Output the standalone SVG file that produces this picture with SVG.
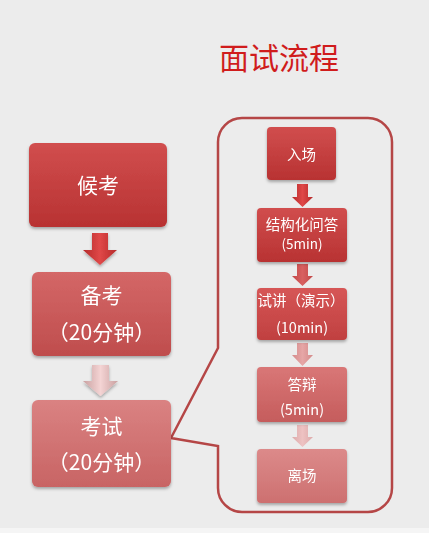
<svg xmlns="http://www.w3.org/2000/svg" width="429" height="533" viewBox="0 0 429 533">
<defs>
<style>
.t{font-family:"Noto Sans CJK SC","Noto Sans",sans-serif;fill:#ffffff;text-anchor:middle}
.big{font-size:21px}
.sm{font-size:14.5px}
.xs{font-size:13.5px}
.title{font-family:"Noto Sans CJK SC","Noto Sans",sans-serif;font-size:30px;fill:#d01c1c;text-anchor:middle}
.box{filter:url(#sh)}
</style>
<filter id="sh" x="-20%" y="-20%" width="140%" height="150%">
<feDropShadow dx="0" dy="2" stdDeviation="1.5" flood-color="#000" flood-opacity="0.3"/>
</filter>
<linearGradient id="g1" x1="0" y1="0" x2="0" y2="1"><stop offset="0" stop-color="#d14e4e"/><stop offset="1" stop-color="#b83232"/></linearGradient>
<linearGradient id="g2" x1="0" y1="0" x2="0" y2="1"><stop offset="0" stop-color="#d46767"/><stop offset="1" stop-color="#bf4d4d"/></linearGradient>
<linearGradient id="g3" x1="0" y1="0" x2="0" y2="1"><stop offset="0" stop-color="#da8282"/><stop offset="1" stop-color="#c86464"/></linearGradient>
<linearGradient id="g4" x1="0" y1="0" x2="0" y2="1"><stop offset="0" stop-color="#d65656"/><stop offset="1" stop-color="#c04040"/></linearGradient>
<linearGradient id="g5" x1="0" y1="0" x2="0" y2="1"><stop offset="0" stop-color="#d97777"/><stop offset="1" stop-color="#c55c5c"/></linearGradient>
<linearGradient id="g6" x1="0" y1="0" x2="0" y2="1"><stop offset="0" stop-color="#dc8a8a"/><stop offset="1" stop-color="#cd7070"/></linearGradient>
<linearGradient id="a1" x1="0" y1="0" x2="1" y2="0"><stop offset="0" stop-color="#b52a2a"/><stop offset="0.5" stop-color="#e04848"/><stop offset="1" stop-color="#b52a2a"/></linearGradient>
<linearGradient id="a2" x1="0" y1="0" x2="1" y2="0"><stop offset="0" stop-color="#c9a0a0"/><stop offset="0.5" stop-color="#f4d4d4"/><stop offset="1" stop-color="#c9a0a0"/></linearGradient>
<linearGradient id="a3" x1="0" y1="0" x2="1" y2="0"><stop offset="0" stop-color="#c24848"/><stop offset="0.5" stop-color="#d86060"/><stop offset="1" stop-color="#c24848"/></linearGradient>
<linearGradient id="a4" x1="0" y1="0" x2="1" y2="0"><stop offset="0" stop-color="#d48a8a"/><stop offset="0.5" stop-color="#e6a6a6"/><stop offset="1" stop-color="#d48a8a"/></linearGradient>
<linearGradient id="a5" x1="0" y1="0" x2="1" y2="0"><stop offset="0" stop-color="#dcaaaa"/><stop offset="0.5" stop-color="#eec2c2"/><stop offset="1" stop-color="#dcaaaa"/></linearGradient>
</defs>
<rect x="0" y="0" width="429" height="528" fill="#ececec"/>
<rect x="0" y="528" width="429" height="5" fill="#f5f5f5"/>
<text class="title" x="279" y="69">面试流程</text>

<g id="connectors">
<path d="M92,233 H108 V250 H117 L100,265 L83,250 H92 Z" fill="url(#a1)" filter="url(#sh)"/>
<path d="M92,365 H109 V381 H118 L100.5,396 L83,381 H92 Z" fill="url(#a2)" filter="url(#sh)"/>
<path d="M297,184 H308 V197 H313 L302.5,207 L292,197 H297 Z" fill="url(#a1)"/>
<path d="M297,264 H308 V276 H313 L302.5,286 L292,276 H297 Z" fill="url(#a3)"/>
<path d="M297,343 H308 V355 H313 L302.5,366 L292,355 H297 Z" fill="url(#a4)"/>
<path d="M297,425 H308 V437 H313 L302.5,447 L292,437 H297 Z" fill="url(#a5)"/>
</g>

<g id="callout">
<path d="M242,118 H368 A24,24 0 0 1 392,142 V488 A24,24 0 0 1 368,512 H242 A24,24 0 0 1 218,488 V446 L171,438 L218,348 V142 A24,24 0 0 1 242,118 Z" fill="none" stroke="#b54646" stroke-width="2.5" stroke-linejoin="miter"/>
</g>

<g id="houkao" class="box">
<rect x="29" y="143" width="138" height="84" rx="6" fill="url(#g1)"/>
<text class="t big" x="98" y="193">候考</text>
</g>
<g id="beikao" class="box">
<rect x="32" y="272" width="139" height="84" rx="6" fill="url(#g2)"/>
<text class="t big" x="101.5" y="303">备考</text>
<text class="t big" x="101.5" y="340">（20分钟）</text>
</g>
<g id="kaoshi" class="box">
<rect x="32" y="400" width="139" height="87" rx="6" fill="url(#g3)"/>
<text class="t big" x="101.5" y="434">考试</text>
<text class="t big" x="101.5" y="470">（20分钟）</text>
</g>

<g id="ruchang" class="box">
<rect x="267" y="127" width="69" height="53" rx="4" fill="url(#g1)"/>
<text class="t sm" x="301.5" y="160">入场</text>
</g>
<g id="jiegouhua" class="box">
<rect x="257" y="208" width="90" height="54" rx="4" fill="url(#g1)"/>
<text class="t sm" x="302" y="230">结构化问答</text>
<text class="t xs" x="302" y="249">(5min)</text>
</g>
<g id="shijiang" class="box">
<rect x="257" y="288" width="90" height="52" rx="4" fill="url(#g4)"/>
<text class="t sm" x="301" y="306">试讲（演示）</text>
<text class="t sm" x="302" y="333">(10min)</text>
</g>
<g id="dabian" class="box">
<rect x="257" y="367" width="90" height="55" rx="4" fill="url(#g5)"/>
<text class="t sm" x="302" y="390">答辩</text>
<text class="t sm" x="302" y="415">(5min)</text>
</g>
<g id="lichang" class="box">
<rect x="257" y="449" width="90" height="54" rx="4" fill="url(#g6)"/>
<text class="t sm" x="302" y="481">离场</text>
</g>
</svg>
